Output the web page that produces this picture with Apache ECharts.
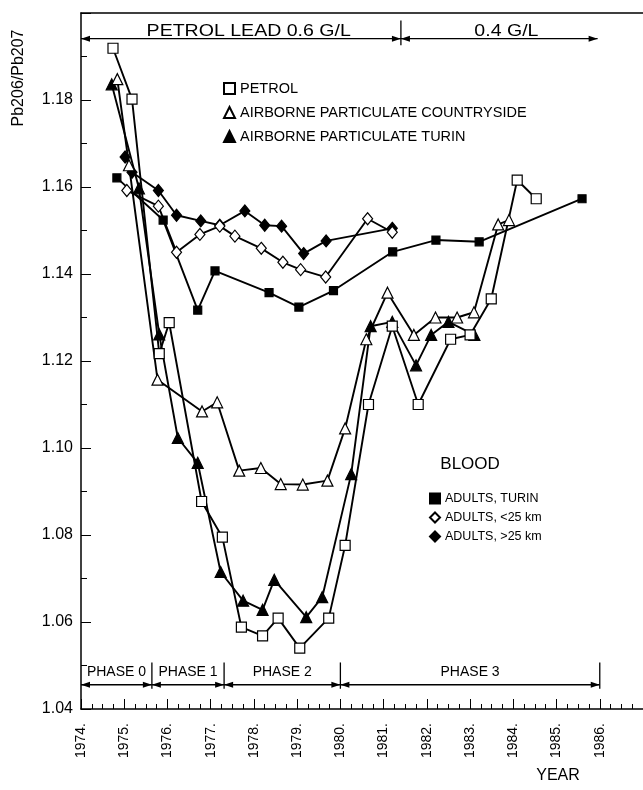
<!DOCTYPE html>
<html><head><meta charset="utf-8">
<script src="https://cdn.jsdelivr.net/npm/echarts@6/dist/echarts.min.js"></script>
<style>html,body{margin:0;padding:0;background:#fff}#c{width:643px;height:790px}</style>
</head><body><div id="c"></div>
<script>
// ---- data (year, Pb206/Pb207) ----
const petrolX = [1974.74,1975.18,1975.81,1976.04,1976.79,1977.27,1977.71,1978.20,1978.56,1979.06,1979.73,1980.11,1980.65,1981.20,1981.80,1982.55,1983.00,1983.49,1984.09,1984.53];
const petrolY = [1.1919,1.1802,1.1217,1.1288,1.0877,1.0795,1.0588,1.0568,1.0609,1.0540,1.0609,1.0776,1.1100,1.1280,1.1100,1.1250,1.1260,1.1343,1.1616,1.1573];
const countryX = [1974.84,1975.11,1975.77,1976.80,1977.15,1977.66,1978.16,1978.62,1979.13,1979.70,1980.11,1980.60,1981.09,1981.70,1982.20,1982.70,1983.09,1983.65,1983.90];
const countryY = [1.1848,1.1650,1.1157,1.1084,1.1105,1.0948,1.0954,1.0917,1.0916,1.0925,1.1045,1.1250,1.1357,1.1260,1.1300,1.1300,1.1312,1.1514,1.1524];
const turinAirX = [1974.71,1975.34,1975.81,1976.24,1976.70,1977.23,1977.75,1978.20,1978.47,1979.21,1979.58,1980.25,1980.70,1981.20,1981.75,1982.10,1982.50,1983.10];
const turinAirY = [1.1836,1.1597,1.1261,1.1023,1.0966,1.0715,1.0649,1.0628,1.0697,1.0611,1.0657,1.0940,1.1280,1.1290,1.1190,1.1260,1.1290,1.1260];
const bloodTurinX = [1974.83,1975.90,1976.70,1977.10,1978.35,1979.04,1979.84,1981.21,1982.21,1983.21,1985.59];
const bloodTurinY = [1.1621,1.1524,1.1317,1.1407,1.1357,1.1324,1.1362,1.1451,1.1478,1.1474,1.1573];
const bloodNearX = [1975.06,1975.79,1976.21,1976.75,1977.21,1977.56,1978.17,1978.67,1979.08,1979.66,1980.63,1981.20];
const bloodNearY = [1.1592,1.1556,1.1450,1.1491,1.1510,1.1487,1.1459,1.1427,1.1410,1.1393,1.1527,1.1496];
const bloodFarX = [1975.02,1975.18,1975.79,1976.21,1976.77,1977.21,1977.79,1978.25,1978.64,1979.15,1979.67,1981.20];
const bloodFarY = [1.1669,1.1634,1.1592,1.1535,1.1522,1.1512,1.1545,1.1512,1.1510,1.1447,1.1476,1.1505];

const seriesNames = ['PETROL','AIRBORNE PARTICULATE COUNTRYSIDE','AIRBORNE PARTICULATE TURIN','ADULTS, TURIN','ADULTS, <25 km','ADULTS, >25 km'];
const topSpans = [1974, 1981.4, 1985.95];
const topLabels = ['PETROL LEAD 0.6 G/L', '0.4 G/L'];
const phaseBounds = [1974, 1975.64, 1977.31, 1980.0, 1986.0];
const phaseLabels = ['PHASE 0','PHASE 1','PHASE 2','PHASE 3'];

const FONT = 'Liberation Sans, Arial, Helvetica, sans-serif';
const zip = (xs, ys) => xs.map((x, i) => [x, ys[i]]);

const chart = echarts.init(document.getElementById('c'), null, {renderer: 'canvas'});

function mk(name, xs, ys, symbol, size, filled) {
  return {
    name, type: 'line', data: zip(xs, ys), symbol, symbolSize: size, showAllSymbol: true,
    lineStyle: {color: '#000', width: 1.9},
    itemStyle: {color: filled ? '#000' : '#fff', borderColor: '#000', borderWidth: 1.2},
    emphasis: {disabled: true}, animation: false, z: filled ? 3 : 4
  };
}

const option = {
  animation: false,
  backgroundColor: '#fff',
  grid: {left: 81, top: 13, width: 564, height: 696, containLabel: false},
  xAxis: [{
    type: 'value', min: 1974, max: 1987, interval: 1,
    axisLine: {show: true, lineStyle: {color: '#000', width: 1.5}},
    axisTick: {show: true, inside: true, length: 10, lineStyle: {color: '#000', width: 1}},
    minorTick: {show: true, splitNumber: 4, length: 5, lineStyle: {color: '#000', width: 1}},
    splitLine: {show: false},
    axisLabel: {rotate: 90, margin: 14, fontSize: 14, color: '#000', fontFamily: FONT,
      formatter: v => v + '.', showMaxLabel: false}
  }, {
    type: 'value', min: 1974, max: 1987, position: 'top',
    axisLine: {show: true, lineStyle: {color: '#000', width: 1.5}},
    axisTick: {show: false}, axisLabel: {show: false}, splitLine: {show: false}
  }],
  yAxis: {
    type: 'value', min: 1.04, max: 1.20, interval: 0.02,
    axisLine: {show: true, lineStyle: {color: '#000', width: 1.5}},
    axisTick: {show: true, inside: true, length: 10, lineStyle: {color: '#000', width: 1}},
    minorTick: {show: true, splitNumber: 2, length: 6, lineStyle: {color: '#000', width: 1}},
    splitLine: {show: false},
    axisLabel: {margin: 8, fontSize: 16, color: '#000', fontFamily: FONT,
      formatter: v => v.toFixed(2), showMaxLabel: false}
  },
  legend: [{
    left: 218, top: 76, orient: 'vertical', itemGap: 9, itemWidth: 11, itemHeight: 11,
    textStyle: {fontSize: 14.5, color: '#000', fontFamily: FONT},
    data: [{name: seriesNames[0], icon: 'rect'}, {name: seriesNames[1], icon: 'triangle'}, {name: seriesNames[2], icon: 'triangle'}],
    selectedMode: false
  }, {
    left: 424, top: 487, orient: 'vertical', itemGap: 6, itemWidth: 10, itemHeight: 10,
    textStyle: {fontSize: 12.5, color: '#000', fontFamily: FONT},
    data: [{name: seriesNames[3], icon: 'rect'}, {name: seriesNames[4], icon: 'diamond'}, {name: seriesNames[5], icon: 'diamond'}],
    selectedMode: false
  }],
  series: [
    mk(seriesNames[0], petrolX, petrolY, 'rect', 10, false),
    mk(seriesNames[1], countryX, countryY, 'triangle', 11, false),
    mk(seriesNames[2], turinAirX, turinAirY, 'triangle', 11, true),
    mk(seriesNames[3], bloodTurinX, bloodTurinY, 'rect', 8, true),
    mk(seriesNames[4], bloodNearX, bloodNearY, 'diamond', [10, 12], false),
    mk(seriesNames[5], bloodFarX, bloodFarY, 'diamond', [10, 12], true)
  ]
};
chart.setOption(option);

// ---- annotations positioned through the axes ----
const P = (x, y) => chart.convertToPixel({gridIndex: 0}, [x, y]);
const g = [];
function arrowSeg(x1, x2, yv) {
  const a = P(x1, yv), b = P(x2, yv);
  const y = a[1];
  g.push({type: 'line', shape: {x1: a[0], y1: y, x2: b[0], y2: y}, style: {stroke: '#000', lineWidth: 1.3}, silent: true});
  const L = 9, H = 3;
  g.push({type: 'polygon', shape: {points: [[a[0], y], [a[0] + L, y - H], [a[0] + L, y + H]]}, style: {fill: '#000'}, silent: true});
  g.push({type: 'polygon', shape: {points: [[b[0], y], [b[0] - L, y - H], [b[0] - L, y + H]]}, style: {fill: '#000'}, silent: true});
}
function vline(xv, y1v, y2v) {
  const a = P(xv, y1v), b = P(xv, y2v);
  g.push({type: 'line', shape: {x1: a[0], y1: a[1], x2: b[0], y2: b[1]}, style: {stroke: '#000', lineWidth: 1.3}, silent: true});
}
function label(text, xv, yv, size, sx) {
  const p = P(xv, yv);
  g.push({type: 'text', x: p[0], y: p[1], scaleX: sx || 1, style: {text, fontSize: size, fontFamily: FONT, fill: '#000', align: 'center', verticalAlign: 'middle'}, silent: true});
}
// top: petrol lead content
arrowSeg(topSpans[0], topSpans[1], 1.1941);
arrowSeg(topSpans[1], topSpans[2], 1.1941);
label(topLabels[0], 1977.88, 1.1957, 17, 1.15);
label(topLabels[1], 1983.84, 1.1957, 17, 1.15);
vline(topSpans[1], 1.1983, 1.1926);
// bottom: phases
for (let i = 0; i < phaseBounds.length - 1; i++) {
  arrowSeg(phaseBounds[i], phaseBounds[i + 1], 1.04557);
  label(phaseLabels[i], (phaseBounds[i] + phaseBounds[i + 1]) / 2, 1.04844, 14);
  if (i > 0) vline(phaseBounds[i], 1.0507, 1.04465);
}
vline(phaseBounds[phaseBounds.length - 1], 1.0507, 1.04465);
// blood legend title
label('BLOOD', 1983.0, 1.0962, 17);
// axis titles
g.push({type: 'text', x: 19, y: 78, rotation: Math.PI / 2, style: {text: 'Pb206/Pb207', fontSize: 16, fontFamily: FONT, fill: '#000', align: 'center', verticalAlign: 'middle'}, silent: true});
g.push({type: 'text', x: 558, y: 776, style: {text: 'YEAR', fontSize: 16, fontFamily: FONT, fill: '#000', align: 'center', verticalAlign: 'middle'}, silent: true});
chart.setOption({graphic: g});
</script></body></html>
